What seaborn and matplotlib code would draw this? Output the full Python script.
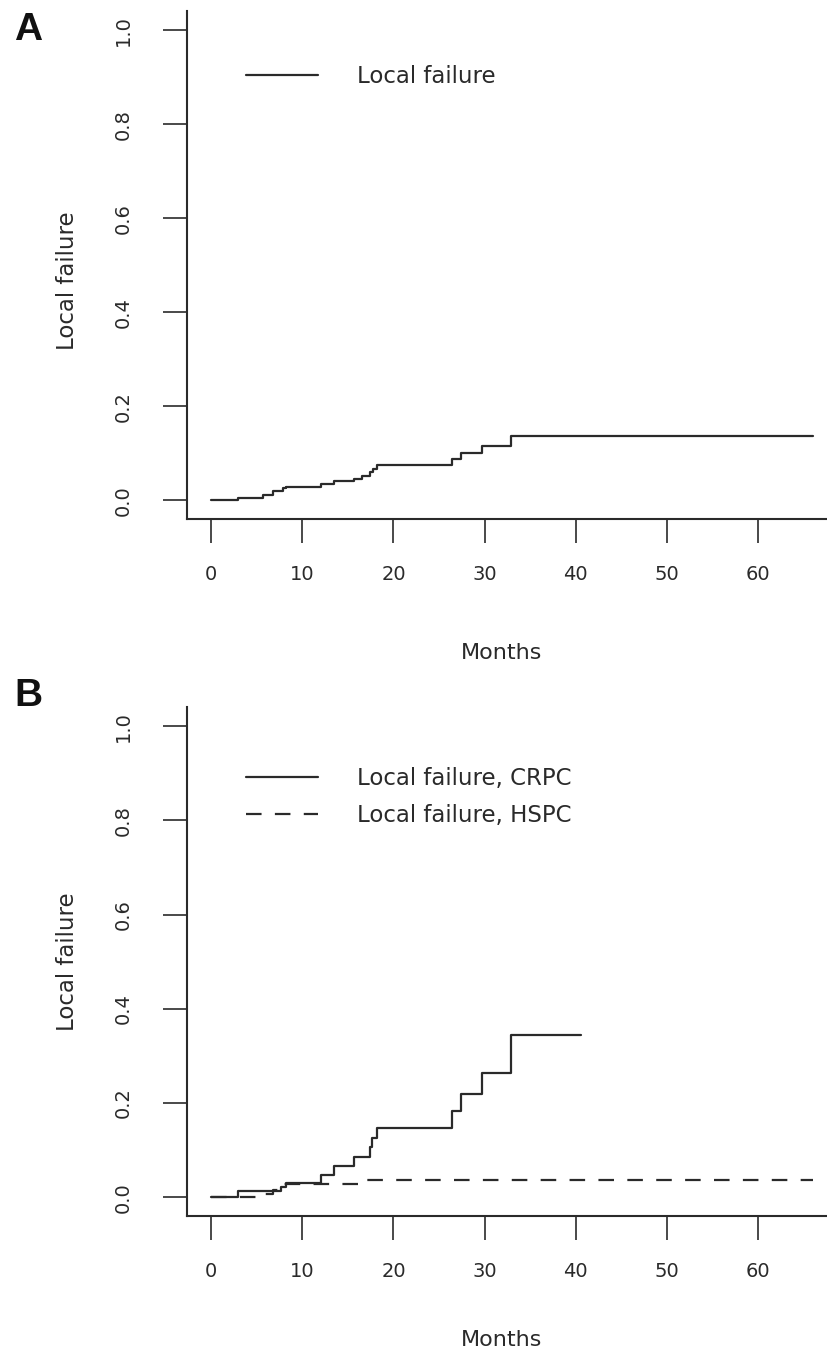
import matplotlib
matplotlib.use("Agg")
import matplotlib.pyplot as plt
import seaborn as sns
import pandas as pd

# ---- data ----
months_a = [0, 3.0, 5.7, 6.8, 7.9, 8.2, 12.0, 13.5, 15.7, 16.5, 17.4, 17.8, 18.2,
            26.4, 27.4, 29.7, 32.9, 66.0]
fail_a = [0, 0.005, 0.010, 0.019, 0.025, 0.029, 0.034, 0.040, 0.046, 0.052, 0.060,
          0.067, 0.074, 0.087, 0.101, 0.115, 0.137, 0.137]

months_crpc = [0, 3.0, 7.7, 8.2, 12.0, 13.5, 15.7, 17.4, 17.7, 18.2, 26.4, 27.4,
               29.7, 32.9, 40.6]
fail_crpc = [0, 0.014, 0.022, 0.029, 0.048, 0.067, 0.085, 0.106, 0.125, 0.146,
             0.183, 0.220, 0.263, 0.345, 0.345]

months_hspc = [0, 5.7, 6.8, 7.9, 16.5, 66.0]
fail_hspc = [0, 0.007, 0.016, 0.027, 0.037, 0.037]

x_ticks = [0, 10, 20, 30, 40, 50, 60]
y_ticks = [0.0, 0.2, 0.4, 0.6, 0.8, 1.0]
y_tick_labels = ["0.0", "0.2", "0.4", "0.6", "0.8", "1.0"]

label_a = "Local failure"
label_crpc = "Local failure, CRPC"
label_hspc = "Local failure, HSPC"
x_title = "Months"
y_title = "Local failure"
panel_labels = ["A", "B"]

# ---- style ----
sns.set_style("white")
plt.rcParams["font.family"] = ["DejaVu Sans"]
INK = "#2a2a2a"

W, H = 827, 1357
fig = plt.figure(figsize=(W / 100, H / 100), dpi=100)

def px_axes(left_px, bottom_px, height_px):
    return fig.add_axes([left_px / W, 1 - bottom_px / H,
                         (W - left_px) / W, height_px / H])

axA = px_axes(187, 519, 507.6)
axB = px_axes(187, 1216, 508.7)

dash = (0, (7, 6))

dfA = pd.DataFrame({"Months": months_a, "fail": fail_a})
sns.lineplot(data=dfA, x="Months", y="fail", ax=axA, drawstyle="steps-post",
             color=INK, lw=1.6, label=label_a)

dfC = pd.DataFrame({"Months": months_crpc, "fail": fail_crpc})
dfH = pd.DataFrame({"Months": months_hspc, "fail": fail_hspc})
sns.lineplot(data=dfC, x="Months", y="fail", ax=axB, drawstyle="steps-post",
             color=INK, lw=1.6, label=label_crpc)
sns.lineplot(data=dfH, x="Months", y="fail", ax=axB, drawstyle="steps-post",
             color=INK, lw=1.6, linestyle=dash, label=label_hspc)

legend_tops = [0.894, 0.883]
xlabel_y = [-0.264, -0.244]
for ax, top, ylab_y, xlab_y in zip([axA, axB], legend_tops, [0.47, 0.5], xlabel_y):
    ax.set_xlim(-2.64, 67.54)
    ax.set_ylim(-0.04, 1.04)
    ax.set_xticks(x_ticks)
    ax.set_yticks(y_ticks)
    ax.set_yticklabels(y_tick_labels)
    for s in ["top", "right"]:
        ax.spines[s].set_visible(False)
    for s in ["left", "bottom"]:
        ax.spines[s].set_color(INK)
        ax.spines[s].set_linewidth(1.5)
    ax.tick_params(axis="both", direction="out", length=17.3, width=1.2,
                   color=INK, labelcolor=INK, labelsize=14,
                   left=True, bottom=True)
    ax.tick_params(axis="x", pad=16)
    ax.tick_params(axis="y", pad=22, labelrotation=90)
    for lab in ax.get_yticklabels():
        lab.set_va("center")
    ax.set_xlabel(x_title, fontsize=16, color=INK)
    ax.xaxis.set_label_coords(0.492, xlab_y)
    ax.xaxis.label.set_va("center")
    ax.set_ylabel(y_title, fontsize=16.5, color=INK)
    ax.yaxis.set_label_coords(-0.1875, ylab_y)
    ax.yaxis.label.set_va("center")
    ax.grid(False)
    ax.legend(loc="upper left", bbox_to_anchor=(0.0922, top), frameon=False,
              fontsize=16.5, handlelength=3.14, handletextpad=1.7,
              borderpad=0, borderaxespad=0, labelspacing=0.63,
              labelcolor=INK)

fig.text(28 / W, 1 - 30 / H, panel_labels[0], fontsize=28, fontweight="bold",
         family=["Liberation Sans", "DejaVu Sans"], ha="center", va="center", color="#111111")
fig.text(28 / W, 1 - 696 / H, panel_labels[1], fontsize=28, fontweight="bold",
         family=["Liberation Sans", "DejaVu Sans"], ha="center", va="center", color="#111111")

fig.savefig("out.png", dpi=100, facecolor="white")
